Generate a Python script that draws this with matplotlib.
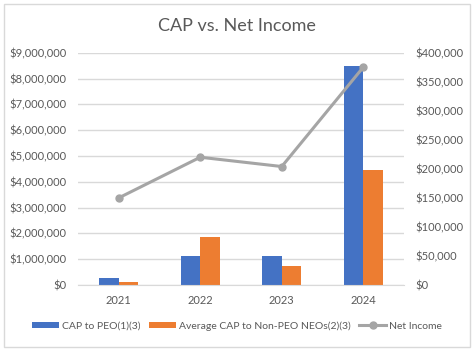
import matplotlib
matplotlib.use('Agg')
import matplotlib.pyplot as plt
from matplotlib.ticker import FuncFormatter
from matplotlib.patches import Rectangle
import numpy as np

years = ['2021', '2022', '2023', '2024']
cap_peo = [270000, 1120000, 1120000, 8490000]
cap_neo = [120000, 1860000, 740000, 4460000]
net_income = [150000, 220000, 204000, 375000]

blue = '#4472C4'
orange = '#ED7D31'
gray = '#A5A5A5'
text_col = '#595959'

plt.rcParams['font.family'] = ['Lato', 'DejaVu Sans']

fig = plt.figure(figsize=(4.77, 3.53), dpi=100)
ax = fig.add_axes([78 / 477, 68 / 353, 326 / 477, 232.3 / 353])

# rahmen um das diagramm
fig.patches.append(Rectangle((4 / 477, 6 / 353), 466 / 477, 343 / 353,
                             transform=fig.transFigure, fill=False,
                             edgecolor='#D9D9D9', linewidth=1))

x = np.arange(len(years))
w = 0.238
ax.bar(x - w / 2, cap_peo, w, color=blue, label='CAP to PEO(1)(3)', zorder=2)
ax.bar(x + w / 2, cap_neo, w, color=orange, label='Average CAP to Non-PEO NEOs(2)(3)', zorder=2)

ax.set_xlim(-0.5, 3.5)
ax.set_ylim(0, 9000000)
ax.set_yticks(np.arange(0, 9000001, 1000000))
ax.yaxis.set_major_formatter(FuncFormatter(lambda v, p: '${:,.0f}'.format(v)))
ax.set_xticks(x)
ax.set_xticklabels(years)
ax.grid(axis='y', color='#D9D9D9', linewidth=1, zorder=0)
ax.set_axisbelow(True)
for s in ax.spines.values():
    s.set_visible(False)
ax.spines['bottom'].set_visible(True)
ax.spines['bottom'].set_color('#D9D9D9')
ax.tick_params(axis='y', length=0, pad=8, labelsize=8, labelcolor=text_col)
ax.tick_params(axis='x', length=0, pad=7, labelsize=8, labelcolor=text_col)

ax2 = ax.twinx()
ax2.plot(x, net_income, color=gray, linewidth=2.2, marker='o', markersize=5,
         label='Net Income', zorder=3)
ax2.set_ylim(0, 400000)
ax2.set_yticks(np.arange(0, 400001, 50000))
ax2.yaxis.set_major_formatter(FuncFormatter(lambda v, p: '${:,.0f}'.format(v)))
for s in ax2.spines.values():
    s.set_visible(False)
ax2.tick_params(axis='y', length=0, pad=8.5, labelsize=8, labelcolor=text_col)

fig.text(237 / 477, 1 - 26 / 353, 'CAP vs. Net Income', ha='center', va='center',
         fontsize=13, color=text_col)

h1, l1 = ax.get_legend_handles_labels()
h2, l2 = ax2.get_legend_handles_labels()
fig.legend(h1 + h2, l1 + l2, loc='center', bbox_to_anchor=(237 / 477, 1 - 326 / 353),
           ncol=3, frameon=False, fontsize=7.5, labelcolor=text_col,
           handlelength=2.6, handleheight=0.6, handletextpad=0.3, columnspacing=0.8)

fig.savefig('out.png', dpi=100)
